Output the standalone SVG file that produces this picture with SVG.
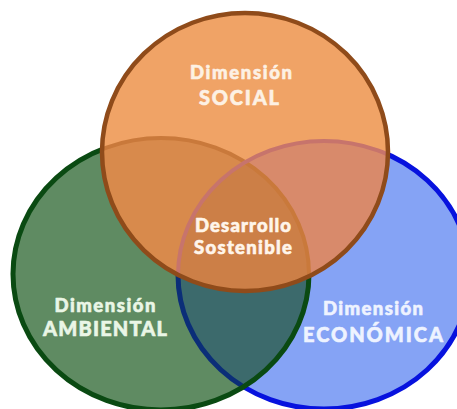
<svg xmlns="http://www.w3.org/2000/svg" width="457" height="409" viewBox="0 0 457 409">
<style>
.t{font-family:Lato,"Liberation Sans",sans-serif;font-weight:900;text-anchor:middle;stroke-width:0.6;stroke-linejoin:round}
.lo{font-size:18.5px}
.up{font-size:20px}
</style>
<defs>
<clipPath id="cS"><ellipse cx="245" cy="152" rx="143" ry="139"/></clipPath>
<clipPath id="cG"><ellipse cx="161" cy="274" rx="148" ry="136"/></clipPath>
<clipPath id="cB"><ellipse cx="324" cy="275" rx="146" ry="134"/></clipPath>
</defs>
<rect width="457" height="409" fill="#ffffff"/>
<g id="economica">
<ellipse cx="324" cy="275" rx="146" ry="134" fill="#85A3F5"/>
<ellipse cx="324" cy="275" rx="146" ry="134" fill="none" stroke="#0712DE" stroke-width="5"/>
<text class="t lo" x="373" y="315" fill="#EEF3FF" stroke="#EEF3FF" textLength="100" lengthAdjust="spacing">Dimensión</text>
<text class="t up" x="373" y="342" fill="#EEF3FF" stroke="#EEF3FF" textLength="140" lengthAdjust="spacing">ECONÓMICA</text>
</g>
<g id="ambiental">
<ellipse cx="161" cy="274" rx="148" ry="136" fill="#5F8B62"/>
<ellipse cx="324" cy="275" rx="146" ry="134" fill="#3C6A6C" clip-path="url(#cG)"/>
<g clip-path="url(#cG)"><ellipse cx="324" cy="275" rx="146" ry="134" fill="none" stroke="#0B2E78" stroke-width="5"/></g>
<ellipse cx="161" cy="274" rx="148" ry="136" fill="none" stroke="#0A4A12" stroke-width="5"/>
<text class="t lo" x="105" y="312" fill="#EAF6E6" stroke="#EAF6E6" textLength="101" lengthAdjust="spacing">Dimensión</text>
<text class="t up" x="105" y="336" fill="#EAF6E6" stroke="#EAF6E6" textLength="124" lengthAdjust="spacing">AMBIENTAL</text>
</g>
<g id="social">
<ellipse cx="245" cy="152" rx="143" ry="139" fill="#F0A366"/>
<ellipse cx="161" cy="274" rx="148" ry="136" fill="#D88A4C" clip-path="url(#cS)"/>
<ellipse cx="324" cy="275" rx="146" ry="134" fill="#D88A6B" clip-path="url(#cS)"/>
<g clip-path="url(#cB)"><ellipse cx="161" cy="274" rx="148" ry="136" fill="#CC7F47" clip-path="url(#cS)"/></g>
<g clip-path="url(#cS)">
<ellipse cx="161" cy="274" rx="148" ry="136" fill="none" stroke="#C9793B" stroke-width="4"/>
<ellipse cx="324" cy="275" rx="146" ry="134" fill="none" stroke="#C7746C" stroke-width="4"/>
</g>
<ellipse cx="245" cy="152" rx="143" ry="139" fill="none" stroke="#8F4B1A" stroke-width="4.5"/>
<text class="t lo" x="241" y="79" fill="#FDF1E4" stroke="#FDF1E4" textLength="102" lengthAdjust="spacing">Dimensión</text>
<text class="t up" x="239" y="105" fill="#FDF1E4" stroke="#FDF1E4" textLength="80" lengthAdjust="spacing">SOCIAL</text>
</g>
<g id="desarrollo">
<text class="t lo" x="243" y="232" fill="#FFF5EA" stroke="#FFF5EA" textLength="96" lengthAdjust="spacing">Desarrollo</text>
<text class="t lo" x="243" y="254" fill="#FFF5EA" stroke="#FFF5EA" textLength="98" lengthAdjust="spacing">Sostenible</text>
</g>
</svg>
